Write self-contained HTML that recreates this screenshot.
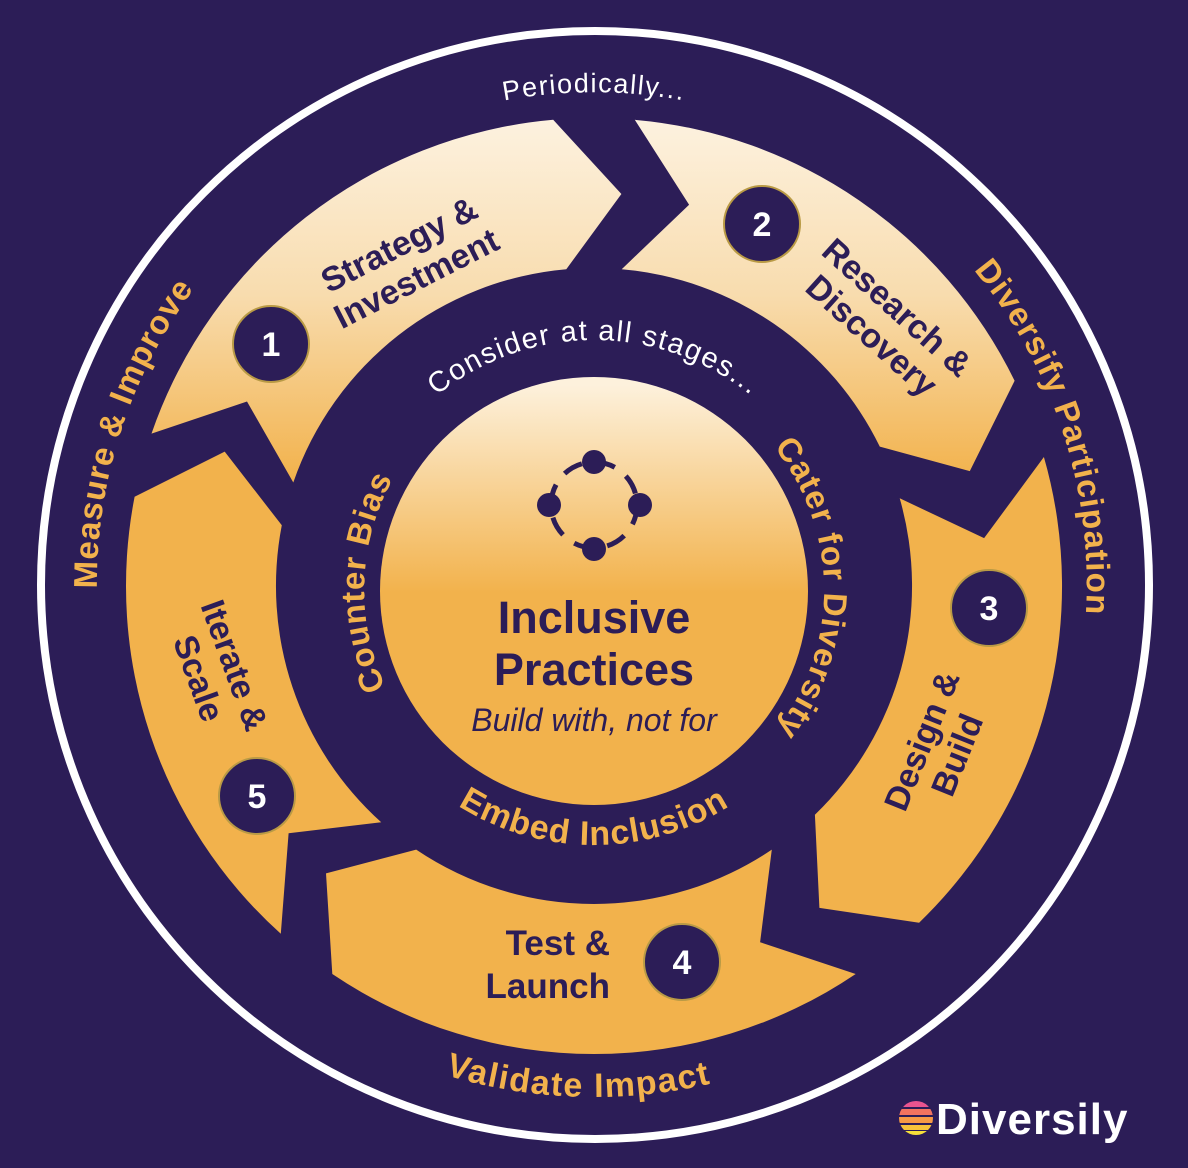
<!DOCTYPE html>
<html><head><meta charset="utf-8">
<style>
html,body{margin:0;padding:0;background:#2c1d57;}
svg{display:block;}
text{font-family:"Liberation Sans",sans-serif;}
</style></head>
<body>
<svg id="s" width="1188" height="1168" viewBox="0 0 1188 1168" xmlns="http://www.w3.org/2000/svg">
<defs>
<linearGradient id="gTop" gradientUnits="userSpaceOnUse" x1="0" y1="110" x2="0" y2="480">
<stop offset="0" stop-color="#fdf3e2"/><stop offset="0.5" stop-color="#f8dcae"/><stop offset="1" stop-color="#f2b24c"/>
</linearGradient>
<linearGradient id="gC" gradientUnits="userSpaceOnUse" x1="0" y1="385" x2="0" y2="800">
<stop offset="0" stop-color="#fdf1dc"/><stop offset="0.5" stop-color="#f2b24c"/><stop offset="1" stop-color="#f2b24c"/>
</linearGradient>
<path id="oTop" d="M 102 584 A 492 492 0 0 1 1086 584"/>
<path id="oLeft" d="M 436.3 1055.3 A 497 497 0 0 1 743.5 110"/>
<path id="oRight" d="M 450.1 113.5 A 492 492 0 0 1 754.2 1049.2"/>
<path id="oBot" d="M 81 584 A 513 513 0 0 0 1107 584"/>
<path id="iTop" d="M 344 590 A 250 250 0 0 1 844 590"/>
<path id="iLeft" d="M 584 819.8 A 230 230 0 0 1 600 360.1"/>
<path id="iRight" d="M 594 362 A 228 228 0 0 1 598 818"/>
<path id="iBot" d="M 339 590 A 255 255 0 0 0 849 590"/>
</defs>
<rect width="1188" height="1168" fill="#2c1d57"/>
<circle cx="595" cy="585" r="554" fill="none" stroke="#fff" stroke-width="8"/>
<g id="segs"></g>

<circle cx="594" cy="591" r="214" fill="url(#gC)"/>
<circle cx="594" cy="505" r="43" fill="none" stroke="#2c1d57" stroke-width="5" stroke-dasharray="20 14"/>
<circle cx="594" cy="462" r="12" fill="#2c1d57"/>
<circle cx="549" cy="505" r="12" fill="#2c1d57"/>
<circle cx="640" cy="505" r="12" fill="#2c1d57"/>
<circle cx="594" cy="549" r="12" fill="#2c1d57"/>
<text x="594" y="633" text-anchor="middle" font-size="45" font-weight="bold" fill="#2c1d57">Inclusive</text>
<text x="594" y="685" text-anchor="middle" font-size="45" font-weight="bold" fill="#2c1d57">Practices</text>
<text x="594" y="731" text-anchor="middle" font-size="32" font-style="italic" fill="#2c1d57">Build with, not for</text>

<text font-size="27" fill="#fff" letter-spacing="1.5"><textPath href="#oTop" startOffset="50%" text-anchor="middle">Periodically...</textPath></text>
<text font-size="33" font-weight="bold" fill="#f2b24c" letter-spacing="1"><textPath href="#oLeft" startOffset="50%" text-anchor="middle">Measure &amp; Improve</textPath></text>
<text font-size="33" font-weight="bold" fill="#f2b24c" letter-spacing="1"><textPath href="#oRight" startOffset="50%" text-anchor="middle">Diversify Participation</textPath></text>
<text font-size="34" font-weight="bold" fill="#f2b24c" letter-spacing="1.5"><textPath href="#oBot" startOffset="49%" text-anchor="middle">Validate Impact</textPath></text>
<text font-size="29" fill="#fff" letter-spacing="1.5"><textPath href="#iTop" startOffset="50%" text-anchor="middle">Consider at all stages...</textPath></text>
<text font-size="33" font-weight="bold" fill="#f2b24c" letter-spacing="1"><textPath href="#iLeft" startOffset="50%" text-anchor="middle">Counter Bias</textPath></text>
<text font-size="33" font-weight="bold" fill="#f2b24c" letter-spacing="1"><textPath href="#iRight" startOffset="50%" text-anchor="middle">Cater for Diversity</textPath></text>
<text font-size="34" font-weight="bold" fill="#f2b24c" letter-spacing="1"><textPath href="#iBot" startOffset="50%" text-anchor="middle">Embed Inclusion</textPath></text>

<g stroke="#b99a45" stroke-width="2" fill="#2c1d57">
<circle cx="271" cy="344" r="38"/><circle cx="762" cy="224" r="38"/><circle cx="989" cy="608" r="38"/><circle cx="682" cy="962" r="38"/><circle cx="257" cy="796" r="38"/>
</g>
<g font-size="34" font-weight="bold" fill="#fff" text-anchor="middle">
<text x="271" y="356">1</text><text x="762" y="236">2</text><text x="989" y="620">3</text><text x="682" y="974">4</text><text x="257" y="808">5</text>
</g>

<g font-size="34" font-weight="bold" fill="#2c1d57" text-anchor="middle">
<g transform="translate(408,262) rotate(-27)"><text x="0" y="-8">Strategy &amp;</text><text x="0" y="30">Investment</text></g>
<g transform="translate(884,322) rotate(42)"><text x="0" y="-8">Research &amp;</text><text x="0" y="30">Discovery</text></g>
<g transform="translate(940,748) rotate(-68)"><text x="0" y="-8">Design &amp;</text><text x="0" y="30">Build</text></g>
<g transform="translate(216,672) rotate(70)"><text x="0" y="-8">Iterate &amp;</text><text x="0" y="30">Scale</text></g>
<g text-anchor="end" font-size="35"><text x="610" y="955">Test &amp;</text><text x="610" y="998">Launch</text></g>
</g>

<g>
<clipPath id="lc"><circle cx="916" cy="1118" r="17"/></clipPath>
<g clip-path="url(#lc)">
<rect x="898" y="1100" width="36" height="7" fill="#e9548f"/>
<rect x="898" y="1109" width="36" height="6" fill="#f2735f"/>
<rect x="898" y="1117" width="36" height="6" fill="#f79a45"/>
<rect x="898" y="1125" width="36" height="5" fill="#f7c33a"/>
<rect x="898" y="1131" width="36" height="5" fill="#f7e03a"/>
</g>
<text x="936" y="1134" font-size="44" font-weight="bold" fill="#fff" letter-spacing="1">Diversily</text>
</g>
</svg>
<script>
(function(){
var cx=594,cy=586,ro=468,ri=318,rm=393,h=9;
function P(a,r){var t=a*Math.PI/180;return (cx+r*Math.sin(t)).toFixed(1)+" "+(cy-r*Math.cos(t)).toFixed(1);}
var segs=[[289,355,"url(#gTop)"],[365,424,"url(#gTop)"],[434,496,"#f2b24c"],[506,574,"#f2b24c"],[582,641,"#f2b24c"]];
var g=document.getElementById("segs"),ns="http://www.w3.org/2000/svg";
segs.forEach(function(s){
var a1=s[0],a2=s[1];
var d="M "+P(a1,ro)+" A "+ro+" "+ro+" 0 0 1 "+P(a2,ro)+" L "+P(a2+h,rm)+" L "+P(a2,ri)+" A "+ri+" "+ri+" 0 0 0 "+P(a1,ri)+" L "+P(a1+h,rm)+" Z";
var p=document.createElementNS(ns,"path");p.setAttribute("d",d);p.setAttribute("fill",s[2]);g.appendChild(p);
});
})();
</script>
</body></html>
